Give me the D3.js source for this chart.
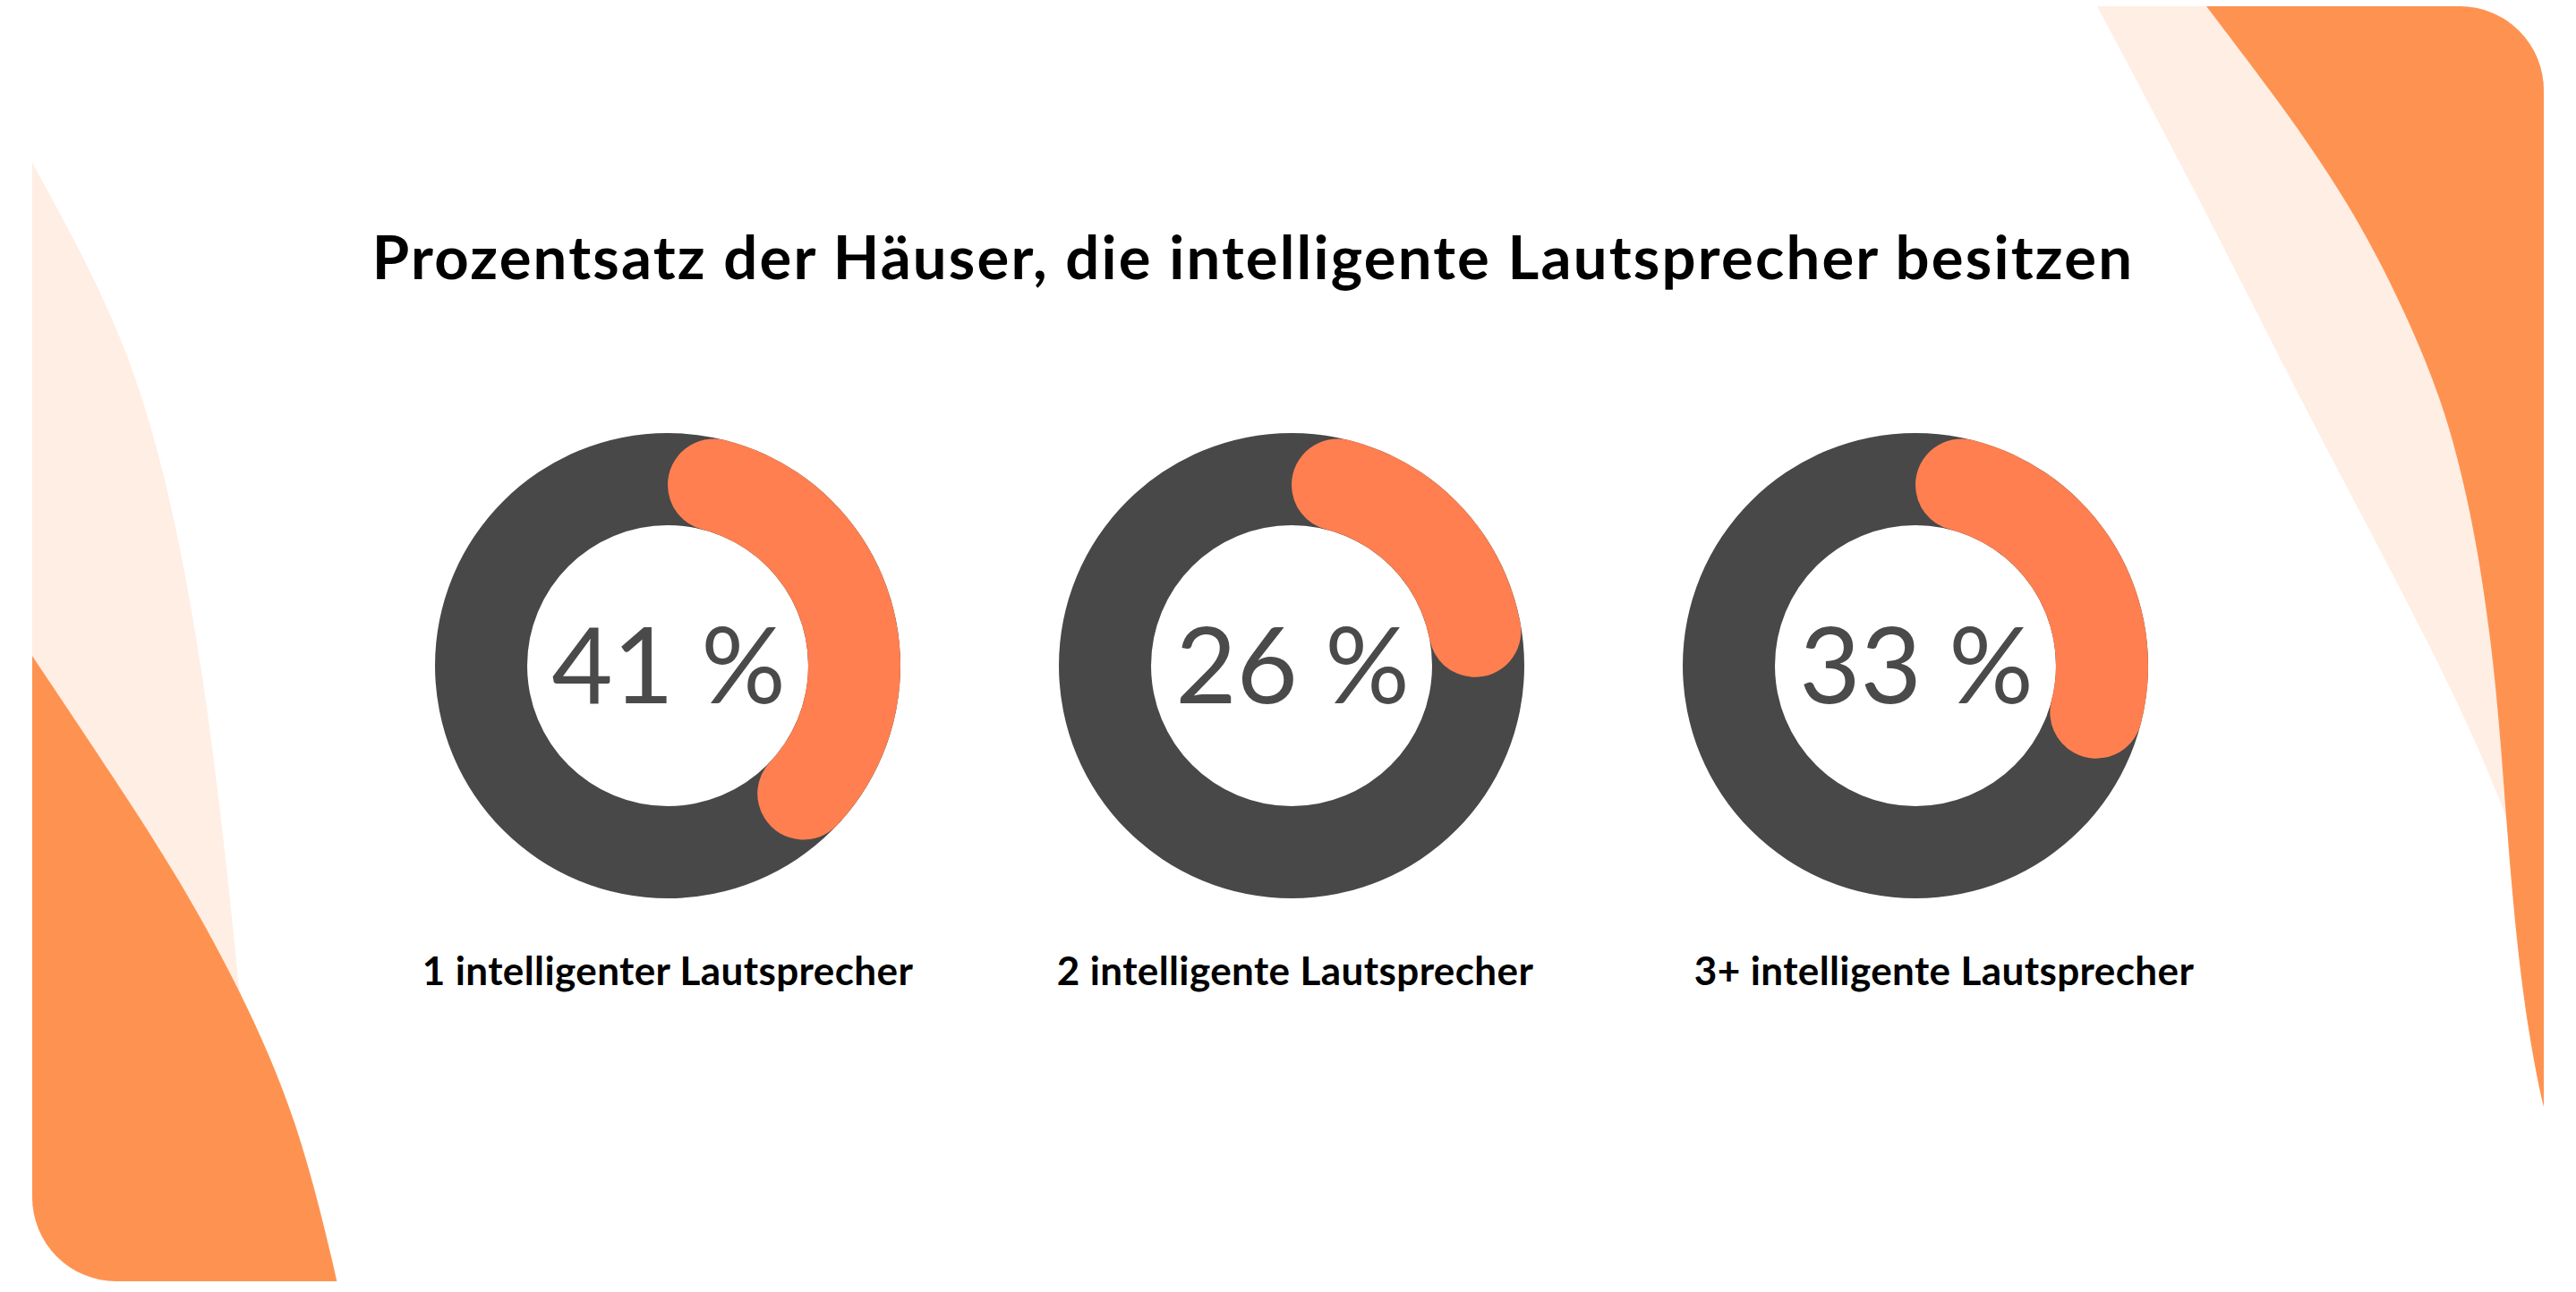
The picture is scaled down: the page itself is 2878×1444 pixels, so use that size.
<!DOCTYPE html>
<html>
<head>
<meta charset="utf-8">
<script src="https://cdn.jsdelivr.net/npm/d3@7"></script>
<style>
  html, body { margin: 0; padding: 0; background: #ffffff; }
  svg { display: block; }
</style>
</head>
<body>
<div id="chart"></div>
<script>
// Daten
const title = "Prozentsatz der Häuser, die intelligente Lautsprecher besitzen";
const categories = ["1 intelligenter Lautsprecher", "2 intelligente Lautsprecher", "3+ intelligente Lautsprecher"];
const shares = [41, 26, 33];
const valueLabels = ["41 %", "26 %", "33 %"];

const W = 2878, H = 1444;
const card = { x: 36, y: 7, w: 2806, h: 1425, r: 94 };

const svg = d3.select("#chart")
  .append("svg")
  .attr("width", W)
  .attr("height", H)
  .attr("viewBox", `0 0 ${W} ${H}`);

svg.append("defs").append("clipPath")
  .attr("id", "card-clip")
  .append("rect")
  .attr("x", card.x).attr("y", card.y)
  .attr("width", card.w).attr("height", card.h)
  .attr("rx", card.r).attr("ry", card.r);

// Hintergrund-Formen (dekorativ)
const deco = svg.append("g").attr("clip-path", "url(#card-clip)");
deco.append("rect")
  .attr("x", card.x).attr("y", card.y)
  .attr("width", card.w).attr("height", card.h)
  .attr("fill", "#ffffff");

const curve = d3.line().curve(d3.curveBasis);
const PEACH = "#ffeee4", ORANGE = "#fe9351";

function shape(points, tail, fill) {
  const d = curve(points) + tail.map(p => `L${p[0]},${p[1]}`).join("") + "Z";
  deco.append("path").attr("d", d).attr("fill", fill);
}

// links
shape([[30, 170], [36, 182], [133, 359], [187, 532], [227, 748], [253, 964], [267, 1103], [285, 1300], [295, 1460]],
  [[0, 1460], [0, 170]], PEACH);
shape([[20, 709], [36, 733], [133, 878], [200, 982], [267, 1103], [333, 1250], [377, 1432], [382, 1460]],
  [[0, 1460], [0, 709]], ORANGE);

// rechts
shape([[2336, -6], [2343, 7], [2448, 204], [2567, 440], [2644, 586], [2715, 722], [2767, 830], [2805, 925]],
  [[2900, 925], [2900, -6]], PEACH);
shape([[2452, -10], [2465, 7], [2559, 130], [2633, 241], [2689, 352], [2729, 450], [2751, 532], [2768, 613],
  [2784, 722], [2794, 830], [2801, 928], [2811, 1048], [2825, 1157], [2843, 1246], [2850, 1262]],
  [[2900, 1262], [2900, -10]], ORANGE);

// Titel
svg.append("text")
  .attr("x", 1400)
  .attr("y", 312)
  .attr("text-anchor", "middle")
  .attr("font-family", "Lato, 'Open Sans', sans-serif")
  .attr("font-weight", 700)
  .attr("font-size", 67)
  .attr("letter-spacing", 2.2)
  .attr("fill", "#000000")
  .text(title);

// Skalen
const x = d3.scalePoint()
  .domain(categories)
  .range([746, 2140]);

const angle = d3.scaleLinear()
  .domain([0, 100])
  .range([0, 2 * Math.PI]);

const outerR = 260, innerR = 157;
const cy = 744;

const ringArc = d3.arc()
  .innerRadius(innerR)
  .outerRadius(outerR)
  .startAngle(0)
  .endAngle(2 * Math.PI);

const valueArc = d3.arc()
  .innerRadius(innerR)
  .outerRadius(outerR)
  .cornerRadius((outerR - innerR) / 2)
  .startAngle(0)
  .endAngle(d => angle(d));

const labelNudge = [0, 4, 32];

const donuts = svg.selectAll("g.donut")
  .data(categories)
  .join("g")
  .attr("class", "donut")
  .attr("transform", d => `translate(${x(d)},${cy})`);

donuts.append("path")
  .attr("d", ringArc())
  .attr("fill", "#484848");

donuts.append("path")
  .attr("d", (d, i) => valueArc(shares[i]))
  .attr("fill", "#ff7f50");

donuts.append("text")
  .attr("x", 1)
  .attr("y", 0)
  .attr("dy", "0.36em")
  .attr("text-anchor", "middle")
  .attr("font-family", "Lato, 'Open Sans', sans-serif")
  .attr("font-weight", 400)
  .attr("font-size", 118)
  .attr("fill", "#4a4a4a")
  .text((d, i) => valueLabels[i]);

svg.selectAll("text.cat")
  .data(categories)
  .join("text")
  .attr("class", "cat")
  .attr("x", (d, i) => x(d) + labelNudge[i])
  .attr("y", 1101)
  .attr("text-anchor", "middle")
  .attr("font-family", "Lato, 'Open Sans', sans-serif")
  .attr("font-weight", 700)
  .attr("font-size", 44)
  .attr("letter-spacing", 0.4)
  .attr("fill", "#000000")
  .text(d => d);
</script>
</body>
</html>
